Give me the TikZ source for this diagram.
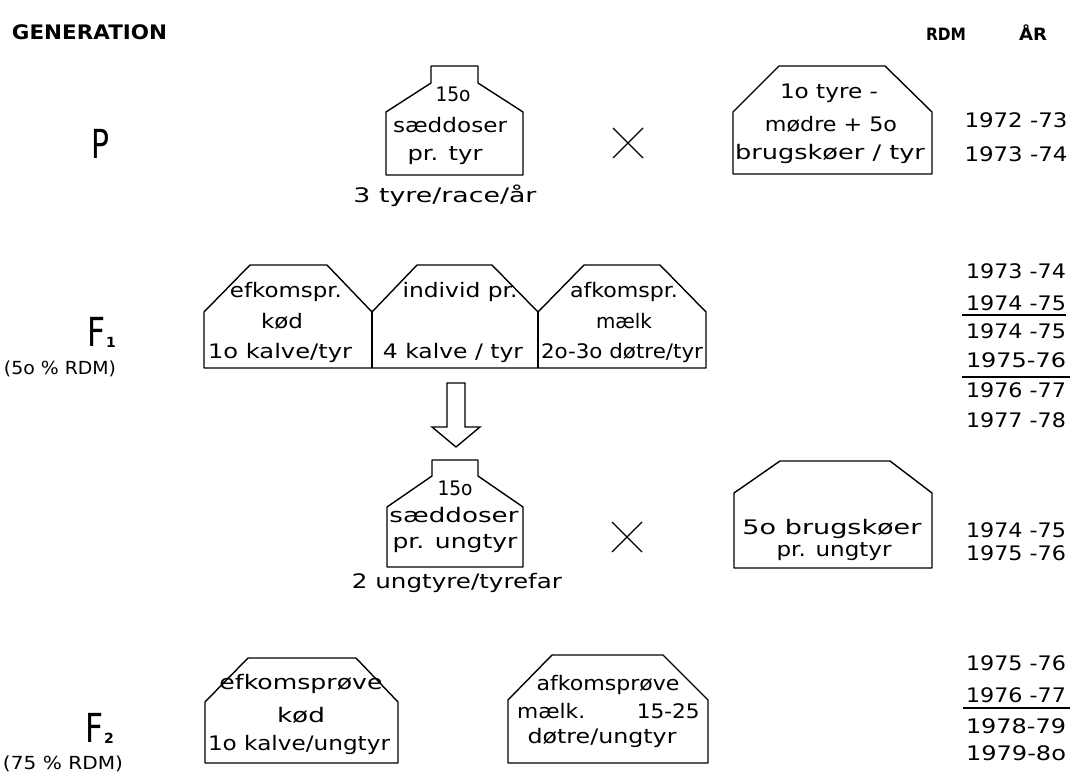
\documentclass[tikz,border=0pt]{standalone}
\usepackage{fontspec}
\usepackage{graphicx}
\setmainfont{DejaVu Sans}
\newcommand{\fw}[2]{\resizebox{#1pt}{\height}{#2}}
\tikzset{
  shp/.style={draw=black, line width=1.4pt, line join=round},
  bt/.style={font=\fontsize{20}{22}\selectfont, inner sep=0pt, anchor=base},
  yr/.style={font=\fontsize{20}{22}\selectfont, inner sep=0pt, anchor=base},
  lbl/.style={font=\fontsize{18}{20}\selectfont, inner sep=0pt, anchor=base},
  hd/.style={font=\bfseries\fontsize{20}{22}\selectfont, inner sep=0pt, anchor=base},
  hds/.style={font=\bfseries\fontsize{17}{19}\selectfont, inner sep=0pt, anchor=base},
  gen/.style={font=\fontsize{40}{44}\selectfont, inner sep=0pt, anchor=base},
  subn/.style={font=\bfseries\fontsize{14}{16}\selectfont, inner sep=0pt, anchor=base},
  rulel/.style={line width=1.3pt},
  crossl/.style={line width=1.4pt},
}
\begin{document}
\begin{tikzpicture}[x=1pt,y=-1pt]
\useasboundingbox (0,0) rectangle (1072,781);

% headers
\node[hd] (hgen) at (89.5,40) {\fw{155}{GENERATION}};
\node[hds] (hrdm) at (946,41) {\fw{40}{RDM}};
\node[hds] (har) at (1033,41) {\fw{28}{ÅR}};

% generation labels
\node[gen] (gp) at (100,159) {\fw{18}{P}};
\node[gen] (gf1) at (96,346) {\fw{18}{F}};
\node[subn] (gf1s) at (111,347) {1};
\node[lbl] (gf1t) at (60,374) {\fw{112}{(5o \% RDM)}};
\node[gen] (gf2) at (94,742) {\fw{18}{F}};
\node[subn] (gf2s) at (109,743) {2};
\node[lbl] (gf2t) at (63,769) {\fw{120}{(75 \% RDM)}};

% ---------- P row ----------
\draw[shp] (386,175) -- (386,112) -- (431,83) -- (431,66) -- (478,66) -- (478,83) -- (523,112) -- (523,175) -- cycle;
\node[bt] (p1a) at (453,102) {\fw{35}{15o}};
\node[bt] (p1b) at (450,133) {\fw{114}{sæddoser}};
\node[bt] (p1c) at (445,161) {\fw{75}{pr. tyr}};
\node[bt] (p1d) at (445,203) {\fw{183}{3 tyre/race/år}};

\coordinate (xp) at (628,143);
\draw[crossl] (xp) ++(-15,-15) -- ++(30,30);
\draw[crossl] (xp) ++(15,-15) -- ++(-30,30);

\draw[shp] (733,174) -- (733,112) -- (779,66) -- (885,66) -- (932,112) -- (932,174) -- cycle;
\node[bt] (p2a) at (829,99) {\fw{98}{1o tyre -}};
\node[bt] (p2b) at (831,132) {\fw{132}{mødre + 5o}};
\node[bt] (p2c) at (830,160) {\fw{190}{brugskøer / tyr}};

\node[yr] (y1) at (1016,128) {\fw{103}{1972 -73}};
\node[yr] (y2) at (1016,162) {\fw{103}{1973 -74}};

% ---------- F1 row ----------
\draw[shp] (204,368) -- (204,312) -- (250,265) -- (327,265) -- (372,312) -- (417,265) -- (492,265) -- (538,312) -- (584,265) -- (660,265) -- (706,312) -- (706,368) -- cycle;
\draw[shp] (372,312) -- (372,368);
\draw[shp] (538,312) -- (538,368);
\node[bt] (f1a) at (286,298) {\fw{112}{efkomspr.}};
\node[bt] (f1b) at (282,328) {\fw{42}{kød}};
\node[bt] (f1c) at (280,358) {\fw{144}{1o kalve/tyr}};
\node[bt] (f2a) at (460,298) {\fw{115}{individ pr.}};
\node[bt] (f2c) at (453,358) {\fw{140}{4 kalve / tyr}};
\node[bt] (f3a) at (624,298) {\fw{108}{afkomspr.}};
\node[bt] (f3b) at (624,328) {\fw{56}{mælk}};
\node[bt] (f3c) at (622,358) {\fw{162}{2o-3o døtre/tyr}};

% hollow arrow from F1 boxes to the young bull box
\coordinate (arrtop) at (456,383);
\coordinate (arrtip) at (456,447);
\draw[shp, line join=miter] (447,383) -- (465,383) -- (465,427) -- (480,427) -- (arrtip) -- (432,427) -- (447,427) -- cycle;

\draw[shp] (387,567) -- (387,507) -- (432,476) -- (432,460) -- (478,460) -- (478,476) -- (523,507) -- (523,567) -- cycle;
\node[bt] (u1a) at (455,495) {\fw{35}{15o}};
\node[bt] (u1b) at (454,522) {\fw{129}{sæddoser}};
\node[bt] (u1c) at (455,548) {\fw{125}{pr. ungtyr}};
\node[bt] (u1d) at (457,588) {\fw{210}{2 ungtyre/tyrefar}};

\coordinate (xf) at (627,537);
\draw[crossl] (xf) ++(-15,-15) -- ++(30,30);
\draw[crossl] (xf) ++(15,-15) -- ++(-30,30);

\draw[shp] (734,568) -- (734,493) -- (780,461) -- (890,461) -- (932,493) -- (932,568) -- cycle;
\node[bt] (u2a) at (832,534) {\fw{179}{5o brugskøer}};
\node[bt] (u2b) at (834,556) {\fw{115}{pr. ungtyr}};

\node[yr] (y3) at (1016,278) {\fw{100}{1973 -74}};
\node[yr] (y4) at (1016,310) {\fw{100}{1974 -75}};
\node[yr] (y5) at (1016,338) {\fw{100}{1974 -75}};
\node[yr] (y6) at (1016,367) {\fw{100}{1975-76}};
\node[yr] (y7) at (1016,397) {\fw{100}{1976 -77}};
\node[yr] (y8) at (1016,427) {\fw{100}{1977 -78}};
\coordinate (r1a) at (962,315); \coordinate (r1b) at (1066,315);
\coordinate (r2a) at (962,377); \coordinate (r2b) at (1070,377);
\draw[rulel] (r1a) -- (r1b);
\draw[rulel] (r2a) -- (r2b);

\node[yr] (y9) at (1016,537) {\fw{100}{1974 -75}};
\node[yr] (y10) at (1016,560) {\fw{100}{1975 -76}};

% ---------- F2 row ----------
\draw[shp] (205,763) -- (205,702) -- (248,658) -- (356,658) -- (398,702) -- (398,763) -- cycle;
\node[bt] (g1a) at (301,689) {\fw{163}{efkomsprøve}};
\node[bt] (g1b) at (301,722) {\fw{48}{kød}};
\node[bt] (g1c) at (299,750) {\fw{182}{1o kalve/ungtyr}};

\draw[shp] (508,763) -- (508,700) -- (552,655) -- (663,655) -- (708,700) -- (708,763) -- cycle;
\node[bt] (g2a) at (608,690) {\fw{143}{afkomsprøve}};
\node[bt, anchor=base west] (g2b) at (517,718) {\fw{68}{mælk.}};
\node[bt, anchor=base east] (g2c) at (700,718) {\fw{63}{15-25}};
\node[bt] (g2d) at (602,743) {\fw{149}{døtre/ungtyr}};

\node[yr] (y11) at (1016,670) {\fw{100}{1975 -76}};
\node[yr] (y12) at (1016,702) {\fw{100}{1976 -77}};
\node[yr] (y13) at (1016,733) {\fw{100}{1978-79}};
\node[yr] (y14) at (1016,760) {\fw{100}{1979-8o}};
\coordinate (r3a) at (963,708); \coordinate (r3b) at (1070,708);
\draw[rulel] (r3a) -- (r3b);
\end{tikzpicture}
\end{document}
